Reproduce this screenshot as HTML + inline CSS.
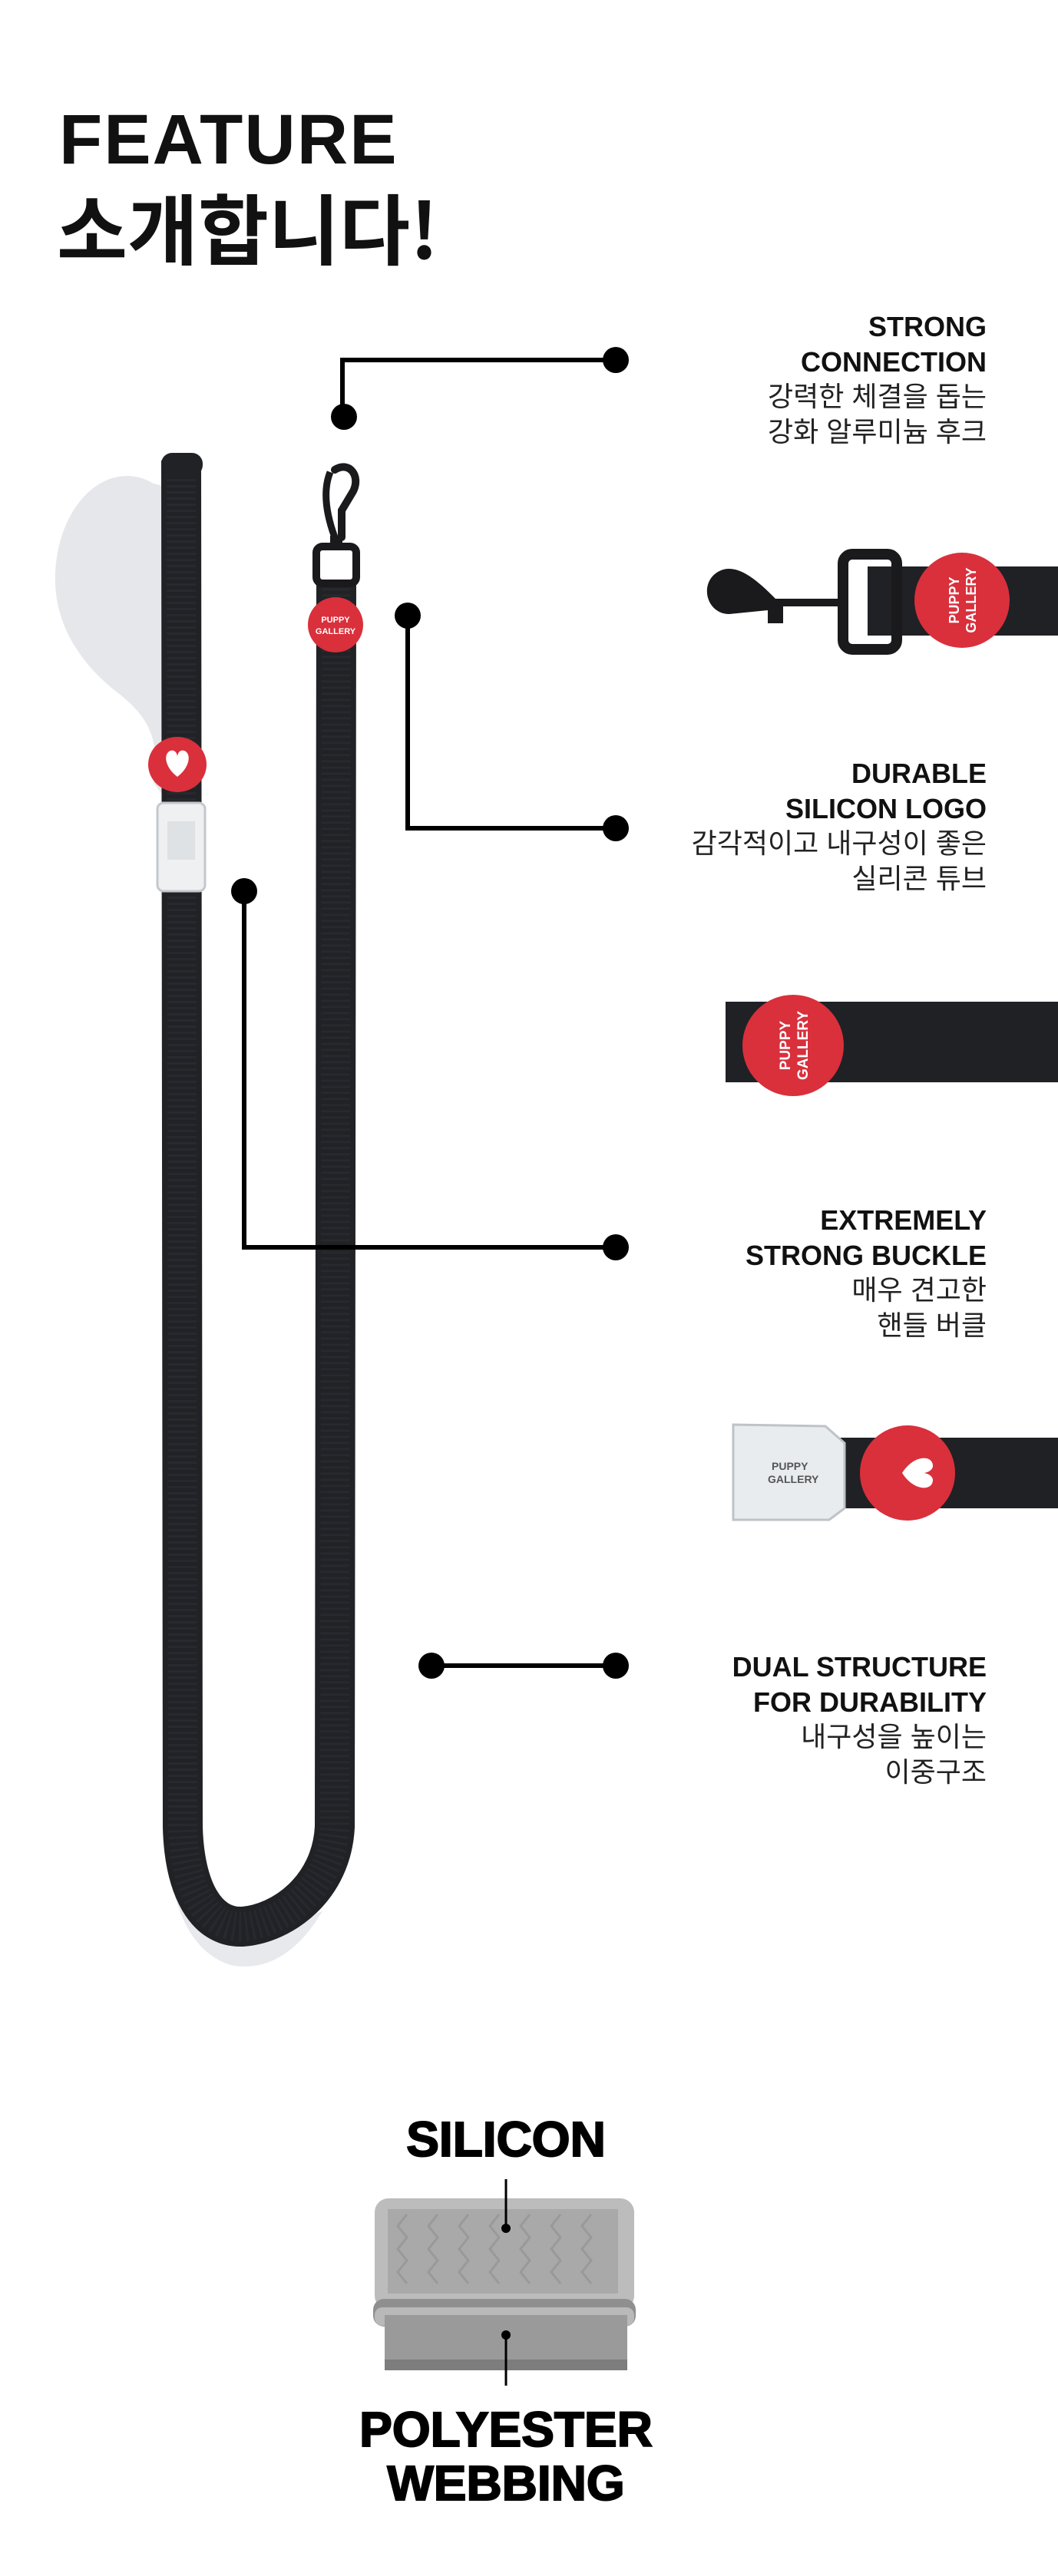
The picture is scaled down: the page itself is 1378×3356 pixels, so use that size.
<!DOCTYPE html>
<html><head><meta charset="utf-8">
<style>
html,body{margin:0;padding:0;background:#fff;}
body{width:1378px;height:3356px;position:relative;overflow:hidden;font-family:"Liberation Sans","Noto Sans CJK KR",sans-serif;}
.t{position:absolute;white-space:nowrap;color:#111;}
.h1{left:77px;font-weight:700;font-size:92px;line-height:1;letter-spacing:2px;top:136px;}
.h2{left:74px;font-family:"Noto Sans CJK KR",sans-serif;font-weight:700;font-size:100px;line-height:1;}
.blk{position:absolute;right:93px;text-align:right;}
.blk div{height:45.5px;line-height:45.5px;white-space:nowrap;}
.en{font-weight:700;font-size:36px;color:#111;}
.ko{font-family:"Liberation Sans","Noto Sans CJK KR",sans-serif;font-weight:400;font-size:36px;color:#222;}
.big{position:absolute;left:0;width:1318px;text-align:center;font-weight:900;font-size:64px;line-height:1;color:#000;}
.big span{display:inline-block;transform:scaleX(1.0);font-family:"Liberation Sans",sans-serif;font-weight:700;-webkit-text-stroke:2px #000;}
</style></head><body>

<div class="t h1">FEATURE</div>
<div class="t h2" style="top:244px;">소개합니다!</div>

<svg width="1378" height="3356" style="position:absolute;left:0;top:0">
  <path d="M200 630 C150 600 90 640 75 720 C60 800 100 860 150 900 C190 930 210 960 200 1020 L215 1040 L240 1000 L240 640 Z" fill="#e6e7ea"/>
  <path d="M215 2380 C220 2470 240 2540 300 2560 C350 2570 390 2540 420 2490 L300 2530 Z" fill="#e8e9ec"/>
  <path d="M236 600 L238 2380 C240 2460 268 2512 316 2510 C368 2506 432 2460 436 2380 L438 757" fill="none" stroke="#202226" stroke-width="52" stroke-linejoin="round"/>
  <path d="M236 600 L238 2380 C240 2460 268 2512 316 2510 C368 2506 432 2460 436 2380 L438 757" fill="none" stroke="#2e3036" stroke-width="38" stroke-dasharray="3 5" opacity="0.5"/>
  <rect x="210" y="590" width="54" height="30" rx="14" fill="#202226"/>
  <path d="M436 612 C455 600 470 620 460 640 L445 665 L445 700" fill="none" stroke="#1a1a1c" stroke-width="10" stroke-linecap="round"/>
  <path d="M430 615 C420 640 425 670 436 700" fill="none" stroke="#1a1a1c" stroke-width="9"/>
  <rect x="412" y="712" width="52" height="48" rx="8" fill="none" stroke="#1a1a1c" stroke-width="10"/>
  <rect x="430" y="698" width="16" height="18" fill="#1a1a1c"/>
  <ellipse cx="437" cy="814" rx="36" ry="36" fill="#d9303c"/>
  <text x="437" y="811" font-family="Liberation Sans" font-weight="700" font-size="11" fill="#fff" text-anchor="middle">PUPPY</text>
  <text x="437" y="826" font-family="Liberation Sans" font-weight="700" font-size="11" fill="#fff" text-anchor="middle">GALLERY</text>
  <ellipse cx="231" cy="996" rx="38" ry="36" fill="#d9303c"/>
  <path d="M231 1012 C215 1000 212 982 222 978 C228 976 231 982 231 986 C231 982 234 976 240 978 C250 982 247 1000 231 1012 Z" fill="#fff"/>
  <rect x="205" y="1046" width="62" height="115" rx="8" fill="#eef0f2" stroke="#c4c8cc" stroke-width="3"/>
  <rect x="218" y="1070" width="36" height="50" fill="#dfe2e5"/>
  <g stroke="#000" stroke-width="6" fill="none">
    <polyline points="446,543 446,469 802,469"/>
    <polyline points="531,802 531,1079 802,1079"/>
    <polyline points="318,1161 318,1625 802,1625"/>
    <polyline points="562,2170 802,2170"/>
  </g>
  <g fill="#000">
    <circle cx="802" cy="469" r="17"/><circle cx="448" cy="543" r="17"/>
    <circle cx="531" cy="802" r="17"/><circle cx="802" cy="1079" r="17"/>
    <circle cx="318" cy="1161" r="17"/><circle cx="802" cy="1625" r="17"/>
    <circle cx="562" cy="2170" r="17"/><circle cx="802" cy="2170" r="17"/>
  </g>
  <rect x="1130" y="738" width="248" height="90" fill="#1f2125"/>
  <rect x="1098" y="722" width="70" height="124" rx="12" fill="none" stroke="#1a1a1c" stroke-width="14"/>
  <path d="M1098 780 L1010 780 C990 760 960 730 935 745 C910 760 920 800 950 800 L1000 795 L1000 812 L1020 812 L1020 790 L1098 790 Z" fill="#1a1a1c"/>
  <circle cx="1253" cy="782" r="62" fill="#d9303c"/>
  <text x="1253" y="778" transform="rotate(-90 1253 782)" font-family="Liberation Sans" font-weight="700" font-size="18" fill="#fff" text-anchor="middle">PUPPY</text>
  <text x="1253" y="800" transform="rotate(-90 1253 782)" font-family="Liberation Sans" font-weight="700" font-size="18" fill="#fff" text-anchor="middle">GALLERY</text>
  <rect x="945" y="1305" width="433" height="105" fill="#1f2125"/>
  <circle cx="1033" cy="1362" r="66" fill="#d9303c"/>
  <text x="1033" y="1358" transform="rotate(-90 1033 1362)" font-family="Liberation Sans" font-weight="700" font-size="19" fill="#fff" text-anchor="middle">PUPPY</text>
  <text x="1033" y="1381" transform="rotate(-90 1033 1362)" font-family="Liberation Sans" font-weight="700" font-size="19" fill="#fff" text-anchor="middle">GALLERY</text>
  <rect x="1085" y="1873" width="293" height="92" fill="#1f2125"/>
  <path d="M955 1856 L1075 1858 L1100 1880 L1100 1965 L1080 1980 L955 1980 Z" fill="#e9ecef" stroke="#bfc3c7" stroke-width="3"/>
  <text x="1005" y="1915" font-family="Liberation Sans" font-weight="700" font-size="14" fill="#555">PUPPY</text>
  <text x="1000" y="1932" font-family="Liberation Sans" font-weight="700" font-size="14" fill="#555">GALLERY</text>
  <circle cx="1182" cy="1919" r="62" fill="#d9303c"/>
  <path d="M1175 1919 C1190 1895 1215 1895 1215 1910 C1215 1915 1208 1919 1202 1919 C1208 1919 1215 1923 1215 1928 C1215 1943 1190 1943 1175 1919 Z" fill="#fff"/>
  <rect x="488" y="2864" width="338" height="145" rx="18" fill="#bcbcbc"/>
  <rect x="505" y="2878" width="300" height="110" fill="#a9a9a9"/>
  <g fill="none" stroke="#999" stroke-width="3">
    <path d="M530 2885 l-12 15 l12 15 l-12 15 l12 15 l-12 15 l12 15"/>
    <path d="M570 2885 l-12 15 l12 15 l-12 15 l12 15 l-12 15 l12 15"/>
    <path d="M610 2885 l-12 15 l12 15 l-12 15 l12 15 l-12 15 l12 15"/>
    <path d="M650 2885 l-12 15 l12 15 l-12 15 l12 15 l-12 15 l12 15"/>
    <path d="M690 2885 l-12 15 l12 15 l-12 15 l12 15 l-12 15 l12 15"/>
    <path d="M730 2885 l-12 15 l12 15 l-12 15 l12 15 l-12 15 l12 15"/>
    <path d="M770 2885 l-12 15 l12 15 l-12 15 l12 15 l-12 15 l12 15"/>
  </g>
  <rect x="486" y="2995" width="342" height="36" rx="14" fill="#8f8f8f"/>
  <rect x="488" y="3006" width="338" height="24" rx="10" fill="#b9b9b9"/>
  <rect x="501" y="3016" width="316" height="72" fill="#9a9a9a"/>
  <rect x="501" y="3074" width="316" height="14" fill="#7d7d7d"/>
  <g stroke="#000" stroke-width="3"><line x1="659" y1="2839" x2="659" y2="2903"/><line x1="659" y1="3042" x2="659" y2="3108"/></g>
  <circle cx="659" cy="2903" r="6" fill="#000"/><circle cx="659" cy="3042" r="6" fill="#000"/>
</svg>

<div class="blk" style="top:403px;"><div class="en">STRONG</div><div class="en">CONNECTION</div><div class="ko">강력한 체결을 돕는</div><div class="ko">강화 알루미늄 후크</div></div>
<div class="blk" style="top:985px;"><div class="en">DURABLE</div><div class="en">SILICON LOGO</div><div class="ko">감각적이고 내구성이 좋은</div><div class="ko">실리콘 튜브</div></div>
<div class="blk" style="top:1567px;"><div class="en">EXTREMELY</div><div class="en">STRONG BUCKLE</div><div class="ko">매우 견고한</div><div class="ko">핸들 버클</div></div>
<div class="blk" style="top:2149px;"><div class="en">DUAL STRUCTURE</div><div class="en">FOR DURABILITY</div><div class="ko">내구성을 높이는</div><div class="ko">이중구조</div></div>

<div class="big" style="top:2755px;"><span>SILICON</span></div>
<div class="big" style="top:3133px;"><span>POLYESTER</span></div>
<div class="big" style="top:3203px;"><span>WEBBING</span></div>
</body></html>
